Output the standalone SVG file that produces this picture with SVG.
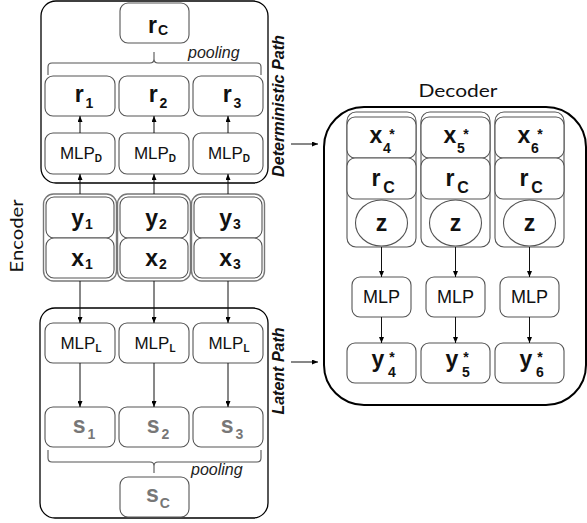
<svg xmlns="http://www.w3.org/2000/svg" width="587" height="523" viewBox="0 0 587 523">
<defs>
<marker id="ah" markerWidth="6" markerHeight="5" refX="6" refY="2.5" orient="auto" markerUnits="userSpaceOnUse"><path d="M0,0 L6,2.5 L0,5 z" fill="#000"/></marker>
<style>
.outer{fill:none;stroke:#000;stroke-width:1.3}
.box{fill:#fff;stroke:#555;stroke-width:1.1}
.grp{fill:#fff;stroke:#777;stroke-width:1.4}
.lbl{font-family:"Liberation Sans",Arial,sans-serif;font-weight:bold;font-size:23px;fill:#111;text-anchor:middle}
.sub{font-size:14px}
.gray{fill:#777}
.mlp{font-family:"Liberation Sans",Arial,sans-serif;font-size:17px;fill:#111;text-anchor:middle}
.msub{font-weight:bold;font-size:10px}
.pool{font-family:"Liberation Sans",Arial,sans-serif;font-style:italic;font-size:16px;fill:#222}
.path{font-family:"Liberation Sans",Arial,sans-serif;font-style:italic;font-weight:bold;font-size:16px;fill:#111;text-anchor:middle}
.title{font-family:Lato,"Open Sans",sans-serif;font-size:18px;fill:#111;text-anchor:middle}
.conn{fill:none;stroke:#111;stroke-width:1}
.brace{fill:none;stroke:#555;stroke-width:1.1}
</style>
</defs>

<!-- Encoder label -->
<text class="title" transform="translate(23,236) rotate(-90)" textLength="73" lengthAdjust="spacingAndGlyphs">Encoder</text>

<!-- Deterministic path -->
<g id="det-path">
<rect class="outer" x="41" y="1" width="227" height="182" rx="15"/>
<text class="path" transform="translate(284,106) rotate(-90)" textLength="142" lengthAdjust="spacingAndGlyphs">Deterministic Path</text>
</g>
<g id="rC"><rect class="box" x="120" y="3" width="69" height="40" rx="8"/><text class="lbl" x="158" y="33">r<tspan class="sub" dx="1" dy="2">C</tspan></text></g>
<g id="pool-top">
<path class="brace" d="M48,75 V67 Q48,63 52,63 H150 Q154,63 154,59 V52 M154,59 Q154,63 158,63 H257 Q261,63 261,67 V75"/>
<text class="pool" x="188" y="58">pooling</text>
</g>
<g id="r1"><rect class="box" x="45" y="76" width="70" height="40" rx="8"/><text class="lbl" x="84" y="102">r<tspan class="sub" dx="2" dy="6">1</tspan></text></g>
<g id="r2"><rect class="box" x="119" y="76" width="70" height="40" rx="8"/><text class="lbl" x="158" y="102">r<tspan class="sub" dx="2" dy="6">2</tspan></text></g>
<g id="r3"><rect class="box" x="193" y="76" width="70" height="40" rx="8"/><text class="lbl" x="232" y="102">r<tspan class="sub" dx="2" dy="6">3</tspan></text></g>
<g id="mlpd1"><rect class="box" x="45" y="133" width="70" height="41" rx="8"/><text class="mlp" x="81" y="159">MLP<tspan class="msub" dy="3">D</tspan></text></g>
<g id="mlpd2"><rect class="box" x="119" y="133" width="70" height="41" rx="8"/><text class="mlp" x="155" y="159">MLP<tspan class="msub" dy="3">D</tspan></text></g>
<g id="mlpd3"><rect class="box" x="193" y="133" width="70" height="41" rx="8"/><text class="mlp" x="229" y="159">MLP<tspan class="msub" dy="3">D</tspan></text></g>

<!-- Context points -->
<g id="ctx1">
<rect class="grp" x="43.5" y="194" width="73" height="87" rx="10"/>
<rect class="box" x="46" y="197" width="68" height="41" rx="8"/>
<rect class="box" x="46" y="238" width="68" height="40" rx="8"/>
<text class="lbl" x="82" y="226">y<tspan class="sub" dx="1" dy="3">1</tspan></text>
<text class="lbl" x="82" y="266">x<tspan class="sub" dx="1" dy="3">1</tspan></text>
</g>
<g id="ctx2">
<rect class="grp" x="117.5" y="194" width="73" height="87" rx="10"/>
<rect class="box" x="120" y="197" width="68" height="41" rx="8"/>
<rect class="box" x="120" y="238" width="68" height="40" rx="8"/>
<text class="lbl" x="156" y="226">y<tspan class="sub" dx="1" dy="3">2</tspan></text>
<text class="lbl" x="156" y="266">x<tspan class="sub" dx="1" dy="3">2</tspan></text>
</g>
<g id="ctx3">
<rect class="grp" x="191.5" y="194" width="73" height="87" rx="10"/>
<rect class="box" x="194" y="197" width="68" height="41" rx="8"/>
<rect class="box" x="194" y="238" width="68" height="40" rx="8"/>
<text class="lbl" x="230" y="226">y<tspan class="sub" dx="1" dy="3">3</tspan></text>
<text class="lbl" x="230" y="266">x<tspan class="sub" dx="1" dy="3">3</tspan></text>
</g>

<!-- Latent path -->
<g id="lat-path">
<rect class="outer" x="40" y="308" width="228" height="210" rx="15"/>
<text class="path" transform="translate(284,371) rotate(-90)">Latent Path</text>
</g>
<g id="mlpl1"><rect class="box" x="45" y="323" width="70" height="40" rx="8"/><text class="mlp" x="81" y="349">MLP<tspan class="msub" dy="3">L</tspan></text></g>
<g id="mlpl2"><rect class="box" x="119" y="323" width="70" height="40" rx="8"/><text class="mlp" x="155" y="349">MLP<tspan class="msub" dy="3">L</tspan></text></g>
<g id="mlpl3"><rect class="box" x="193" y="323" width="70" height="40" rx="8"/><text class="mlp" x="229" y="349">MLP<tspan class="msub" dy="3">L</tspan></text></g>
<g id="s1"><rect class="box" x="45" y="407" width="70" height="40" rx="8"/><text class="lbl gray" x="84" y="433">s<tspan class="sub" dx="2" dy="6">1</tspan></text></g>
<g id="s2"><rect class="box" x="119" y="407" width="70" height="40" rx="8"/><text class="lbl gray" x="158" y="433">s<tspan class="sub" dx="2" dy="6">2</tspan></text></g>
<g id="s3"><rect class="box" x="193" y="407" width="70" height="40" rx="8"/><text class="lbl gray" x="232" y="433">s<tspan class="sub" dx="2" dy="6">3</tspan></text></g>
<g id="pool-bot">
<path class="brace" d="M48,450 V458 Q48,462 52,462 H150 Q154,462 154,466 V473 M154,466 Q154,462 158,462 H257 Q261,462 261,458 V450"/>
<text class="pool" x="191" y="475">pooling</text>
</g>
<g id="sC"><rect class="box" x="120" y="477" width="69" height="40" rx="8"/><text class="lbl gray" x="158" y="502">s<tspan class="sub" dx="1" dy="6">C</tspan></text></g>

<!-- Decoder -->
<text class="title" x="458" y="97" textLength="79" lengthAdjust="spacingAndGlyphs">Decoder</text>
<g id="decoder">
<rect x="324" y="107" width="262" height="298" rx="40" fill="none" stroke="#000" stroke-width="2"/>
</g>
<g id="dcol1">
<rect class="box" x="347" y="112" width="69" height="135" rx="9"/>
<rect class="box" x="347" y="117" width="69" height="41" rx="8"/>
<rect class="box" x="347" y="158" width="69" height="41" rx="8"/>
<ellipse class="box" cx="381.5" cy="223" rx="26" ry="23"/>
<text class="lbl" x="376" y="143">x</text><text class="lbl sub" x="392" y="139">*</text><text class="lbl sub" x="387" y="153">4</text>
<text class="lbl" x="376" y="186">r</text><text class="lbl" x="389" y="193" style="font-size:16px">C</text>
<text class="lbl" x="381.5" y="231">z</text>
</g>
<g id="dcol2">
<rect class="box" x="421" y="112" width="69" height="135" rx="9"/>
<rect class="box" x="421" y="117" width="69" height="41" rx="8"/>
<rect class="box" x="421" y="158" width="69" height="41" rx="8"/>
<ellipse class="box" cx="455.5" cy="223" rx="26" ry="23"/>
<text class="lbl" x="450" y="143">x</text><text class="lbl sub" x="466" y="139">*</text><text class="lbl sub" x="461" y="153">5</text>
<text class="lbl" x="450" y="186">r</text><text class="lbl" x="463" y="193" style="font-size:16px">C</text>
<text class="lbl" x="455.5" y="231">z</text>
</g>
<g id="dcol3">
<rect class="box" x="495" y="112" width="69" height="135" rx="9"/>
<rect class="box" x="495" y="117" width="69" height="41" rx="8"/>
<rect class="box" x="495" y="158" width="69" height="41" rx="8"/>
<ellipse class="box" cx="529.5" cy="223" rx="26" ry="23"/>
<text class="lbl" x="524" y="143">x</text><text class="lbl sub" x="540" y="139">*</text><text class="lbl sub" x="535" y="153">6</text>
<text class="lbl" x="524" y="186">r</text><text class="lbl" x="537" y="193" style="font-size:16px">C</text>
<text class="lbl" x="529.5" y="231">z</text>
</g>
<g id="dmlp1"><rect class="box" x="352" y="277" width="59" height="40" rx="8"/><text class="mlp" x="381.5" y="303" style="font-size:18px">MLP</text></g>
<g id="dmlp2"><rect class="box" x="426" y="277" width="59" height="40" rx="8"/><text class="mlp" x="455.5" y="303" style="font-size:18px">MLP</text></g>
<g id="dmlp3"><rect class="box" x="500" y="277" width="59" height="40" rx="8"/><text class="mlp" x="529.5" y="303" style="font-size:18px">MLP</text></g>
<g id="ys4"><rect class="box" x="347" y="343" width="69" height="40" rx="8"/><text class="lbl" x="378" y="367">y</text><text class="lbl sub" x="392" y="362">*</text><text class="lbl sub" x="392" y="377">4</text></g>
<g id="ys5"><rect class="box" x="421" y="343" width="69" height="40" rx="8"/><text class="lbl" x="452" y="367">y</text><text class="lbl sub" x="466" y="362">*</text><text class="lbl sub" x="466" y="377">5</text></g>
<g id="ys6"><rect class="box" x="495" y="343" width="69" height="40" rx="8"/><text class="lbl" x="526" y="367">y</text><text class="lbl sub" x="540" y="362">*</text><text class="lbl sub" x="540" y="377">6</text></g>

<!-- Connectors -->
<g id="connectors">
<path class="conn" marker-end="url(#ah)" d="M80,194 V174"/>
<path class="conn" marker-end="url(#ah)" d="M154,194 V174"/>
<path class="conn" marker-end="url(#ah)" d="M228,194 V174"/>
<path class="conn" marker-end="url(#ah)" d="M80,133 V116"/>
<path class="conn" marker-end="url(#ah)" d="M154,133 V116"/>
<path class="conn" marker-end="url(#ah)" d="M228,133 V116"/>
<path class="conn" marker-end="url(#ah)" d="M80,281 V323"/>
<path class="conn" marker-end="url(#ah)" d="M154,281 V323"/>
<path class="conn" marker-end="url(#ah)" d="M228,281 V323"/>
<path class="conn" marker-end="url(#ah)" d="M80,363 V407"/>
<path class="conn" marker-end="url(#ah)" d="M154,363 V407"/>
<path class="conn" marker-end="url(#ah)" d="M228,363 V407"/>
<path class="conn" marker-end="url(#ah)" d="M291,144 H318"/>
<path class="conn" marker-end="url(#ah)" d="M291,362 H318"/>
<path class="conn" marker-end="url(#ah)" d="M381.5,247 V277"/>
<path class="conn" marker-end="url(#ah)" d="M455.5,247 V277"/>
<path class="conn" marker-end="url(#ah)" d="M529.5,247 V277"/>
<path class="conn" marker-end="url(#ah)" d="M381.5,317 V343"/>
<path class="conn" marker-end="url(#ah)" d="M455.5,317 V343"/>
<path class="conn" marker-end="url(#ah)" d="M529.5,317 V343"/>
</g>
</svg>
